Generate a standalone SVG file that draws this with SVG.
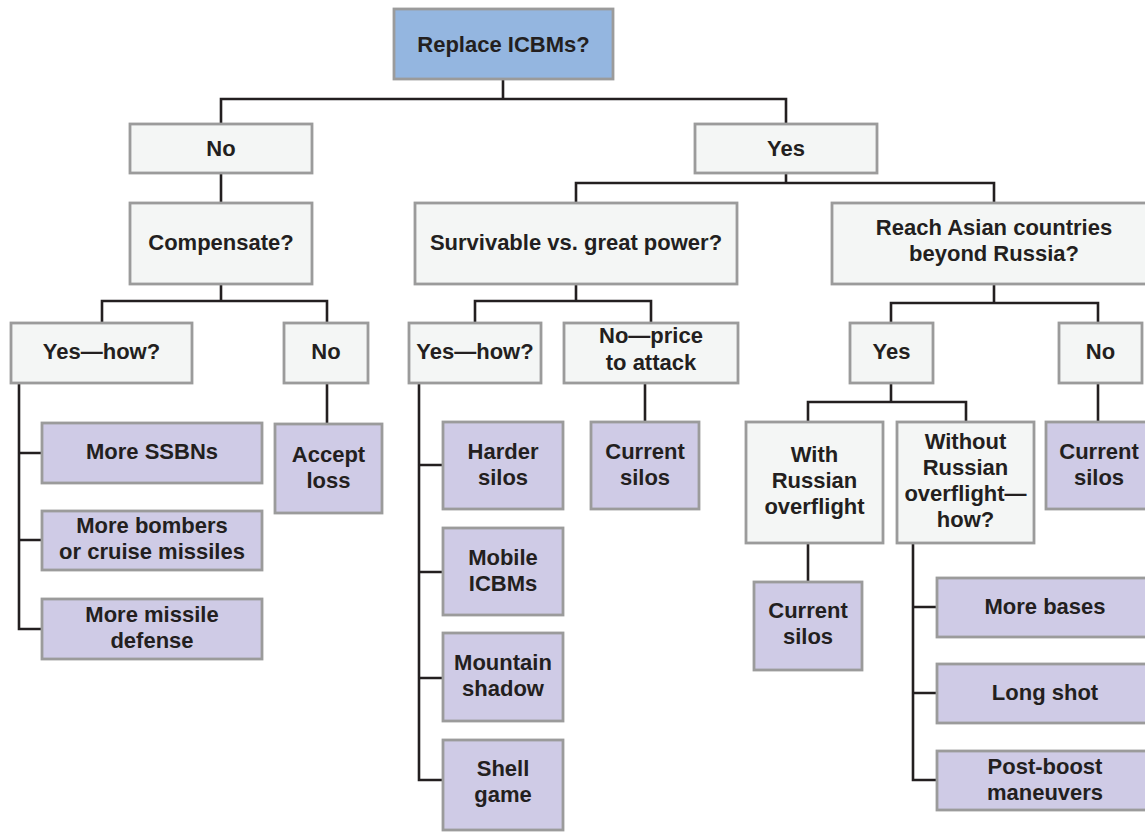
<svg xmlns="http://www.w3.org/2000/svg" width="1145" height="833" viewBox="0 0 1145 833">
<style>
.c{fill:none;stroke:#231f20;stroke-width:2.6}
.r{fill:#94b6e0;stroke:#9b9b9b;stroke-width:2.8}
.d{fill:#f4f6f5;stroke:#9b9b9b;stroke-width:2.8}
.l{fill:#cfcbe6;stroke:#9b9b9b;stroke-width:2.8}
text{font-family:"Liberation Sans",Arial,sans-serif;font-weight:700;font-size:22px;fill:#231f20;text-anchor:middle}
</style>
<rect width="1145" height="833" fill="#ffffff"/>
<g id="connectors">
<path class="c" d="M503,79 V99 M221,124 V99 H786 V124"/>
<path class="c" d="M221,173 V203"/>
<path class="c" d="M221,284 V301 M102,323 V301 H327 V323"/>
<path class="c" d="M327,383 V424"/>
<path class="c" d="M19,383 V629 H42 M19,453 H42 M19,540 H42"/>
<path class="c" d="M786,173 V183 M576,203 V183 H994 V203"/>
<path class="c" d="M576,284 V301 M475,323 V301 H651 V323"/>
<path class="c" d="M645,383 V422"/>
<path class="c" d="M419,383 V780 H443 M419,465 H443 M419,572 H443 M419,678 H443"/>
<path class="c" d="M994,284 V303 M891,323 V303 H1098 V323"/>
<path class="c" d="M1098,383 V422"/>
<path class="c" d="M891,383 V402 M808,422 V402 H966 V422"/>
<path class="c" d="M808,543 V582"/>
<path class="c" d="M913,543 V780 H937 M913,607 H937 M913,693 H937"/>
</g>
<g id="root"><rect class="r" x="394" y="9" width="219" height="70"/><text x="503.5" y="52">Replace ICBMs?</text></g>
<g id="no1"><rect class="d" x="130" y="124" width="182" height="49"/><text x="221" y="156">No</text></g>
<g id="yes1"><rect class="d" x="695" y="124" width="182" height="49"/><text x="786" y="156">Yes</text></g>
<g id="compensate"><rect class="d" x="130" y="203" width="182" height="81"/><text x="221" y="250">Compensate?</text></g>
<g id="survivable"><rect class="d" x="415" y="203" width="322" height="81"/><text x="576" y="250">Survivable vs. great power?</text></g>
<g id="reach"><rect class="d" x="832" y="203" width="324" height="81"/><text x="994" y="235">Reach Asian countries<tspan x="994" dy="26">beyond Russia?</tspan></text></g>
<g id="yeshow1"><rect class="d" x="11" y="323" width="181" height="60"/><text x="101.5" y="359">Yes—how?</text></g>
<g id="no2"><rect class="d" x="284" y="323" width="84" height="60"/><text x="326" y="359">No</text></g>
<g id="yeshow2"><rect class="d" x="409" y="323" width="132" height="60"/><text x="475" y="359">Yes—how?</text></g>
<g id="noprice"><rect class="d" x="564" y="323" width="174" height="60"/><text x="651" y="343">No—price<tspan x="651" dy="27">to attack</tspan></text></g>
<g id="yes3"><rect class="d" x="850" y="323" width="83" height="60"/><text x="891.5" y="359">Yes</text></g>
<g id="no3"><rect class="d" x="1059" y="323" width="83" height="60"/><text x="1100.5" y="359">No</text></g>
<g id="ssbn"><rect class="l" x="42" y="423" width="220" height="60"/><text x="152" y="459">More SSBNs</text></g>
<g id="bombers"><rect class="l" x="42" y="511" width="220" height="59"/><text x="152" y="533">More bombers<tspan x="152" dy="26">or cruise missiles</tspan></text></g>
<g id="defense"><rect class="l" x="42" y="599" width="220" height="60"/><text x="152" y="622">More missile<tspan x="152" dy="26">defense</tspan></text></g>
<g id="accept"><rect class="l" x="275" y="424" width="107" height="89"/><text x="328.5" y="462">Accept<tspan x="328.5" dy="26">loss</tspan></text></g>
<g id="harder"><rect class="l" x="443" y="422" width="120" height="87"/><text x="503" y="459">Harder<tspan x="503" dy="26">silos</tspan></text></g>
<g id="mobile"><rect class="l" x="443" y="528" width="120" height="87"/><text x="503" y="565">Mobile<tspan x="503" dy="26">ICBMs</tspan></text></g>
<g id="mountain"><rect class="l" x="443" y="633" width="120" height="88"/><text x="503" y="670">Mountain<tspan x="503" dy="26">shadow</tspan></text></g>
<g id="shell"><rect class="l" x="443" y="740" width="120" height="90"/><text x="503" y="776">Shell<tspan x="503" dy="26">game</tspan></text></g>
<g id="current1"><rect class="l" x="591" y="422" width="108" height="87"/><text x="645" y="459">Current<tspan x="645" dy="26">silos</tspan></text></g>
<g id="withrus"><rect class="d" x="746" y="422" width="137" height="121"/><text x="814.5" y="462">With<tspan x="814.5" dy="26">Russian</tspan><tspan x="814.5" dy="26">overflight</tspan></text></g>
<g id="withoutrus"><rect class="d" x="897" y="422" width="137" height="121"/><text x="965.5" y="449">Without<tspan x="965.5" dy="26">Russian</tspan><tspan x="965.5" dy="26">overflight—</tspan><tspan x="965.5" dy="26">how?</tspan></text></g>
<g id="current3"><rect class="l" x="1046" y="422" width="106" height="87"/><text x="1099" y="459">Current<tspan x="1099" dy="26">silos</tspan></text></g>
<g id="current2"><rect class="l" x="754" y="582" width="108" height="88"/><text x="808" y="618">Current<tspan x="808" dy="26">silos</tspan></text></g>
<g id="bases"><rect class="l" x="937" y="578" width="216" height="59"/><text x="1045" y="614">More bases</text></g>
<g id="longshot"><rect class="l" x="937" y="664" width="216" height="59"/><text x="1045" y="700">Long shot</text></g>
<g id="postboost"><rect class="l" x="937" y="751" width="216" height="59"/><text x="1045" y="774">Post-boost<tspan x="1045" dy="26">maneuvers</tspan></text></g>
</svg>
